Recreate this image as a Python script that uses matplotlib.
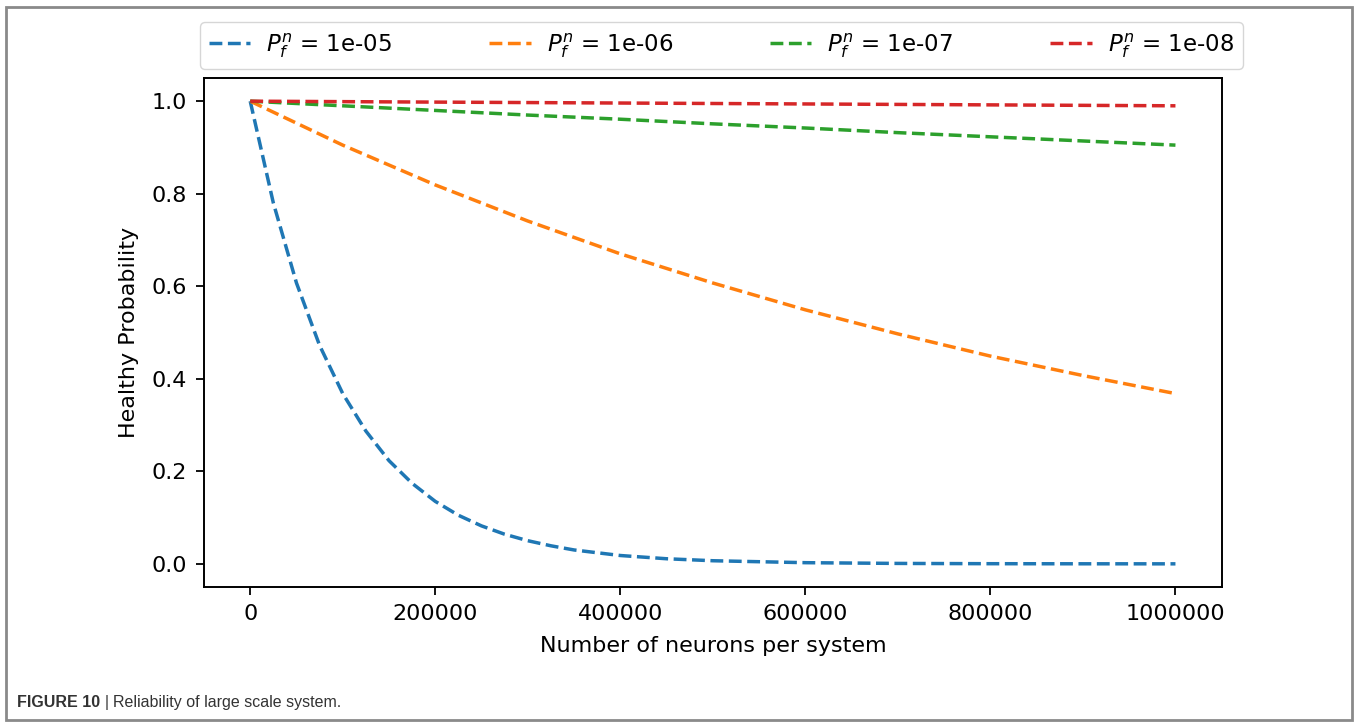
import matplotlib.pyplot as plt
from matplotlib.patches import Rectangle

# values
n_blue = [0, 25000, 50000, 75000, 100000, 125000, 150000, 175000, 200000,
          225000, 250000, 275000, 300000, 325000, 350000, 375000, 400000,
          450000, 500000, 600000, 700000, 800000, 900000, 1000000]
p_blue = [1.0, 0.78, 0.607, 0.472, 0.368, 0.287, 0.223, 0.174, 0.135,
          0.105, 0.082, 0.064, 0.050, 0.039, 0.030, 0.024, 0.018,
          0.011, 0.0067, 0.0025, 0.0009, 0.0003, 0.0001, 0.0]

n_steps = [0, 100000, 200000, 300000, 400000, 500000,
           600000, 700000, 800000, 900000, 1000000]
p_orange = [1.0, 0.905, 0.819, 0.741, 0.670, 0.607, 0.549, 0.497, 0.449, 0.407, 0.368]
p_green = [1.0, 0.990, 0.980, 0.970, 0.961, 0.951, 0.942, 0.932, 0.923, 0.914, 0.905]
p_red = [1.0, 0.999, 0.998, 0.997, 0.996, 0.995, 0.994, 0.993, 0.992, 0.991, 0.990]

labels = [r"$P_f^n$ = 1e-05", r"$P_f^n$ = 1e-06",
          r"$P_f^n$ = 1e-07", r"$P_f^n$ = 1e-08"]
colors = ["#1f77b4", "#ff7f0e", "#2ca02c", "#d62728"]

plt.rcParams["font.family"] = "DejaVu Sans"
FS = 16

fig = plt.figure(figsize=(13.57, 7.26), dpi=100)
ax = fig.add_axes([0.1503, 0.1915, 0.750, 0.701])

series = [(n_blue, p_blue), (n_steps, p_orange), (n_steps, p_green), (n_steps, p_red)]
for (xs, ys), lab, col in zip(series, labels, colors):
    ax.plot(xs, ys, "--", color=col, lw=2.5, label=lab)

ax.ticklabel_format(style="plain", axis="x")
ax.set_xticks([0, 200000, 400000, 600000, 800000, 1000000])
ax.set_yticks([0.0, 0.2, 0.4, 0.6, 0.8, 1.0])
ax.tick_params(labelsize=FS, length=6, width=1.3, pad=6)
for sp in ax.spines.values():
    sp.set_linewidth(1.4)
ax.set_xlabel("Number of neurons per system", fontsize=FS, labelpad=9)
ax.set_ylabel("Healthy Probability", fontsize=FS, labelpad=9)

handles, labs = ax.get_legend_handles_labels()
fig.legend(handles, labs, ncol=4, mode="expand", fontsize=16.5,
           loc="lower left", handlelength=1.8, handletextpad=0.7, borderaxespad=0,
           bbox_to_anchor=(200 / 1357, 1 - 69 / 726, 1043 / 1357, 43 / 726))

# outer frame + caption
fig.patches.append(Rectangle((6 / 1357, 6 / 726), 1346 / 1357, 713 / 726,
                             transform=fig.transFigure, fill=False,
                             edgecolor="#8a8a8a", lw=2))
cap_y = 1 - 707 / 726
renderer = fig.canvas.get_renderer()
x = 17 / 1357
for txt, weight in [("FIGURE 10 ", "bold"), ("| ", "normal"),
                    ("Reliability of large scale system.", "normal")]:
    t = fig.text(x, cap_y, txt, fontsize=11.5, fontweight=weight,
                 family="Liberation Sans", color="#333333")
    bb = t.get_window_extent(renderer)
    x = bb.x1 / fig.bbox.width

fig.savefig("out.png", dpi=100)
